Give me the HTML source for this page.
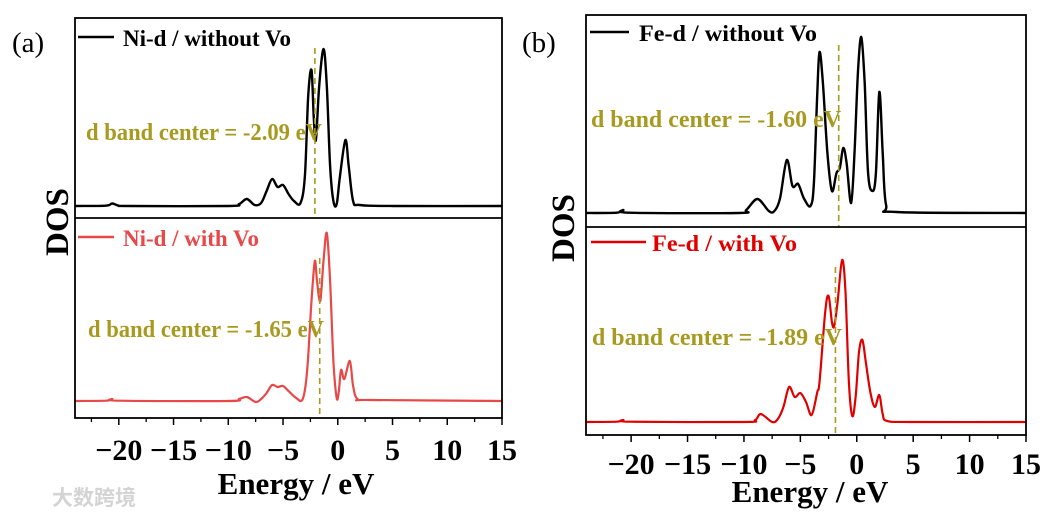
<!DOCTYPE html>
<html><head><meta charset="utf-8"><style>
html,body{margin:0;padding:0;background:#fff;}
svg{display:block;font-family:"Liberation Serif",serif;}
</style></head><body>
<svg id="c" width="1062" height="517" viewBox="0 0 1062 517" xmlns="http://www.w3.org/2000/svg"></svg>
<script>
// ---- data ----
const aTopE=[-24,-21.2,-20.6,-20.0,-19,-10,-9,-8.3,-7.6,-7,-6.5,-6,-5.5,-5,-4.5,-4,-3.4,-3,-2.7,-2.4,-2.2,-2.0,-1.7,-1.3,-1.0,-0.7,-0.4,-0.1,0.2,0.7,1.0,1.4,2,5,15];
const aTopD=[0,0.3,2.5,0.3,0,0,2,7,1,3,15,27,19,21,12,5,3,30,110,136,90,66,120,157,120,40,5,2,30,66,40,5,1,0,0];
const aBotE=[-24,-21.2,-20.6,-20,-10,-9,-8.3,-7.5,-7,-6.5,-6,-5.5,-5,-4.5,-3.8,-3.2,-2.8,-2.4,-2.1,-1.9,-1.6,-1.3,-1.0,-0.7,-0.4,-0.1,0.1,0.3,0.6,1.1,1.4,1.8,3,15];
const aBotD=[0,0.3,2,0.3,0,2,4,-1,2,8,16,14,15,10,3,2,30,100,140,120,100,140,168,120,40,3,10,31,22,40,15,2,1,0];
const bTopE=[-24,-21.3,-20.7,-20.1,-10.5,-9.8,-8.8,-7.8,-7.3,-6.8,-6.2,-5.7,-5.2,-4.7,-4.1,-3.8,-3.5,-3.3,-3.0,-2.6,-2.2,-1.8,-1.5,-1.2,-0.9,-0.5,-0.2,0.1,0.4,0.7,1.0,1.4,1.7,2.0,2.3,2.6,3.5,15];
const bTopD=[0,0.3,3,0.3,0,3,14,2,2,15,53,27,29,15,7,30,120,161,130,60,22,40,45,65,50,10,60,140,176,130,40,22,40,121,60,8,1,0];
const bBotE=[-24,-21.3,-20.7,-20,-10,-9,-8.5,-7.5,-7,-6.5,-6,-5.5,-5,-4.5,-4,-3.5,-3.3,-2.8,-2.5,-2.2,-2.0,-1.7,-1.3,-1.0,-0.7,-0.4,-0.1,0.2,0.5,0.8,1.2,1.6,2.0,2.3,2.7,5,15];
const bBotD=[0,0.3,2,0.3,0,2,8,0,3,15,35,25,29,20,7,30,40,110,126,100,96,120,162,130,40,6,25,70,82,60,30,15,27,8,1,0,0];
const xTicks=[-20,-15,-10,-5,0,5,10,15];
const xTickLabels=["\u221220","\u221215","\u221210","\u22125","0","5","10","15"];
const minorTicks=[-22.5,-17.5,-12.5,-7.5,-2.5,2.5,7.5,12.5];
const centers=[-2.09,-1.65,-1.60,-1.89];
const centerLabels=["d band center = -2.09 eV","d band center = -1.65 eV","d band center = -1.60 eV","d band center = -1.89 eV"];

const NS="http://www.w3.org/2000/svg";
const svg=document.getElementById('c');
function mk(tag,attrs,parent){const e=document.createElementNS(NS,tag);for(const k in attrs)e.setAttribute(k,attrs[k]);(parent||svg).appendChild(e);return e;}

const panels=[
 {id:'a',L:75,R:502,T:18,M:218,B:418,baseTop:206,baseBot:401,label:'(a)',lx:12,ly:52,dosx:68,dosy:222,
  tickY:460,titleY:494,titleX:296,botColor:'#e84848',
  topE:aTopE,topD:aTopD,botE:aBotE,botD:aBotD,ci:[0,1],
  leg:[{x1:78,x2:114,y:37,tx:123,ty:46,t:'Ni-d / without Vo',c:'#000',w:168},{x1:78,x2:114,y:237,tx:123,ty:246,t:'Ni-d / with Vo',c:'#e84848',w:136}],
  ctext:[{x:86,y:140,w:236},{x:88,y:337,w:236}]},
 {id:'b',L:586,R:1026,T:15,M:227,B:435,baseTop:213,baseBot:422,label:'(b)',lx:522,ly:52,dosx:574,dosy:228,
  tickY:474,titleY:502,titleX:810,botColor:'#e00000',
  topE:bTopE,topD:bTopD,botE:bBotE,botD:bBotD,ci:[2,3],
  leg:[{x1:590,x2:629,y:32,tx:639,ty:41,t:'Fe-d / without Vo',c:'#000',w:178},{x1:591,x2:646,y:242,tx:652,ty:251,t:'Fe-d / with Vo',c:'#e00000',w:145}],
  ctext:[{x:591,y:127,w:250},{x:592,y:345,w:250}]}
];

function pathFrom(E,D,xs,ys){
  const p=E.map((e,i)=>[xs(e),ys(D[i])]);
  let d='M'+p[0][0].toFixed(1)+','+p[0][1].toFixed(1);
  for(let i=0;i<p.length-1;i++){
    const p0=p[i-1]||p[i],p1=p[i],p2=p[i+1],p3=p[i+2]||p2;
    const c1=[p1[0]+(p2[0]-p0[0])/6,p1[1]+(p2[1]-p0[1])/6];
    const c2=[p2[0]-(p3[0]-p1[0])/6,p2[1]-(p3[1]-p1[1])/6];
    d+=' C'+c1[0].toFixed(1)+','+c1[1].toFixed(1)+' '+c2[0].toFixed(1)+','+c2[1].toFixed(1)+' '+p2[0].toFixed(1)+','+p2[1].toFixed(1);
  }
  return d;
}

panels.forEach(P=>{
  const xs=e=>P.L+(e+24)/39*(P.R-P.L);
  const ysT=v=>P.baseTop-v;
  const ysB=v=>P.baseBot-v;
  const g=mk('g',{});
  
  
  const c1=mk('path',{d:pathFrom(P.topE,P.topD,xs,ysT),fill:'none',stroke:'#000','stroke-width':2.4,'stroke-linejoin':'round'},g);
  
  
  const c2=mk('path',{d:pathFrom(P.botE,P.botD,xs,ysB),fill:'none',stroke:P.botColor,'stroke-width':2.2,'stroke-linejoin':'round'},g);
  
  
  const l1=mk('line',{x1:xs(centers[P.ci[0]]),x2:xs(centers[P.ci[0]]),y1:P.T+30,y2:P.M,stroke:'#a89a20','stroke-width':1.6,'stroke-dasharray':'6,4'},g);
  
  
  const l2=mk('line',{x1:xs(centers[P.ci[1]]),x2:xs(centers[P.ci[1]]),y1:P.M+40,y2:P.B,stroke:'#a89a20','stroke-width':1.6,'stroke-dasharray':'6,4'},g);
  
  
  P.ctext.forEach((c,i)=>{
    const t=mk('text',{x:c.x,y:c.y,'font-size':24,'font-weight':'bold',fill:'#a89a20',textLength:c.w,lengthAdjust:'spacingAndGlyphs'},g);
    t.textContent=centerLabels[P.ci[i]];
    
    
  });
  const fr=mk('rect',{x:P.L,y:P.T,width:P.R-P.L,height:P.B-P.T,fill:'none',stroke:'#000','stroke-width':1.8},g);
  
  
  const dv=mk('line',{x1:P.L,x2:P.R,y1:P.M,y2:P.M,stroke:'#000','stroke-width':1.8},g);
  
  
  P.leg.forEach(L=>{
    const ln=mk('line',{x1:L.x1,x2:L.x2,y1:L.y,y2:L.y,stroke:L.c,'stroke-width':2.5},g);
    
    
    const t=mk('text',{x:L.tx,y:L.ty,'font-size':23,'font-weight':'bold',fill:L.c,textLength:L.w,lengthAdjust:'spacingAndGlyphs'},g);
    t.textContent=L.t;
    
    
  });
  xTicks.forEach((v,i)=>{
    const tk=mk('line',{x1:xs(v),x2:xs(v),y1:P.B,y2:P.B+7,stroke:'#000','stroke-width':1.5},g);
    
    
    const t=mk('text',{x:xs(v),y:P.tickY,'font-size':30,'font-weight':'bold','text-anchor':'middle',fill:'#000'},g);
    t.textContent=xTickLabels[i];
    
    
  });
  minorTicks.forEach(v=>{
    const tk=mk('line',{x1:xs(v),x2:xs(v),y1:P.B,y2:P.B+4,stroke:'#000','stroke-width':1.3},g);
    
    
  });
  const xt=mk('text',{x:P.titleX,y:P.titleY,'font-size':31,'font-weight':'bold','text-anchor':'middle',fill:'#000'},g);
  xt.textContent='Energy / eV';
  
  
  const yt=mk('text',{x:P.dosx,y:P.dosy,'font-size':33,'font-weight':'bold','text-anchor':'middle',fill:'#000',transform:'rotate(-90 '+P.dosx+' '+P.dosy+')'},g);
  yt.textContent='DOS';
  
  
  const pl=mk('text',{x:P.lx,y:P.ly,'font-size':29,fill:'#000'},g);
  pl.textContent=P.label;
  
  
});
const wm=mk('text',{x:52,y:505,'font-size':21,fill:'#d4d4d4','font-weight':'bold','font-family':'"Liberation Sans","Noto Sans CJK SC",sans-serif'});
wm.textContent='大数跨境';


</script>
</body></html>
